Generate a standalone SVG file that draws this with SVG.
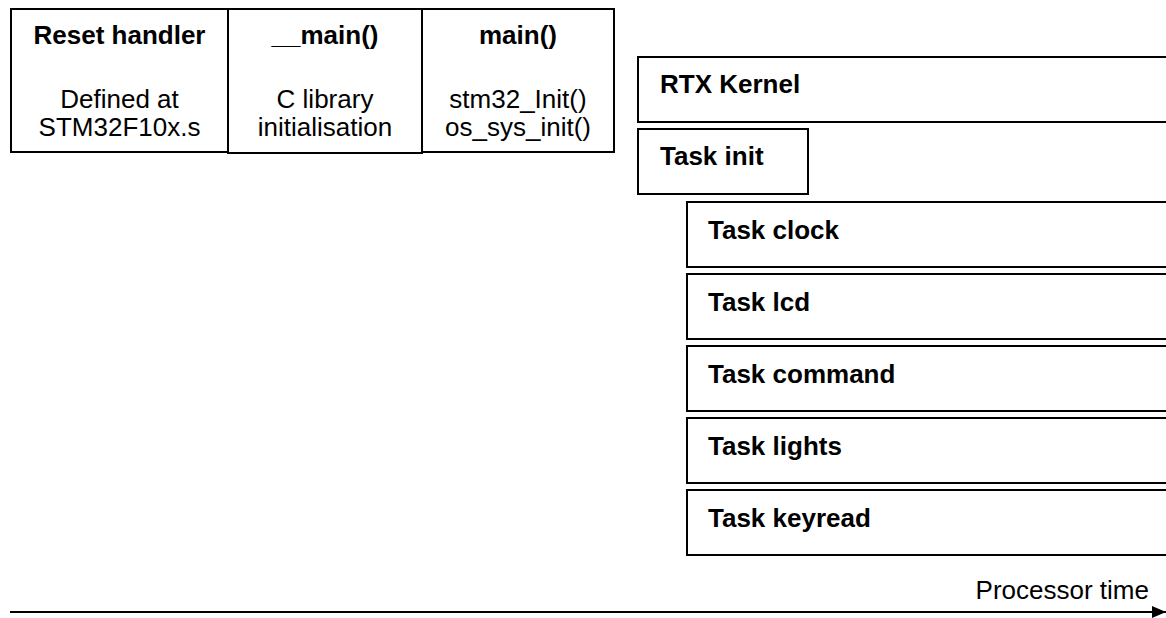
<svg xmlns="http://www.w3.org/2000/svg" width="1166" height="618" viewBox="0 0 1166 618">
<style>
.box{fill:#fff;stroke:#000;stroke-width:2}
.b{font-family:"Liberation Sans",Arial,sans-serif;font-weight:bold;font-size:26px;fill:#000}
.r{font-family:"Liberation Sans",Arial,sans-serif;font-size:26px;fill:#000}
.c{text-anchor:middle}
</style>
<defs>
<marker id="ah" markerWidth="14" markerHeight="12" refX="14" refY="6" orient="auto" markerUnits="userSpaceOnUse">
<path d="M0,0 L14,6 L0,12 Z" fill="#000"/>
</marker>
</defs>
<rect width="1166" height="618" fill="#fff"/>
<g id="reset">
<rect class="box" x="11" y="9" width="217" height="143"/>
<text class="b c" x="119.5" y="44">Reset handler</text>
<text class="r c" x="119.5" y="108">Defined at</text>
<text class="r c" x="119.5" y="136">STM32F10x.s</text>
</g>
<g id="cmain">
<rect class="box" x="228" y="9" width="194" height="144"/>
<text class="b c" x="325" y="44">__main()</text>
<text class="r c" x="325" y="108">C library</text>
<text class="r c" x="325" y="136">initialisation</text>
</g>
<g id="main">
<rect class="box" x="422" y="9" width="192" height="143"/>
<text class="b c" x="518" y="44">main()</text>
<text class="r c" x="518" y="108">stm32_Init()</text>
<text class="r c" x="518" y="136">os_sys_init()</text>
</g>
<g id="rtx">
<rect class="box" x="638" y="57" width="540" height="65"/>
<text class="b" x="660" y="93">RTX Kernel</text>
</g>
<g id="taskinit">
<rect class="box" x="638" y="129" width="170" height="65"/>
<text class="b" x="660" y="165">Task init</text>
</g>
<g id="taskclock">
<rect class="box" x="687" y="202" width="490" height="65"/>
<text class="b" x="708" y="239">Task clock</text>
</g>
<g id="tasklcd">
<rect class="box" x="687" y="274" width="490" height="65"/>
<text class="b" x="708" y="311">Task lcd</text>
</g>
<g id="taskcommand">
<rect class="box" x="687" y="346" width="490" height="65"/>
<text class="b" x="708" y="383">Task command</text>
</g>
<g id="tasklights">
<rect class="box" x="687" y="418" width="490" height="65"/>
<text class="b" x="708" y="455">Task lights</text>
</g>
<g id="taskkeyread">
<rect class="box" x="687" y="490" width="490" height="65"/>
<text class="b" x="708" y="527">Task keyread</text>
</g>
<g id="connectors">
<line x1="10" y1="612" x2="1166" y2="612" stroke="#000" stroke-width="2" marker-end="url(#ah)"/>
<text class="r" x="1149" y="599" text-anchor="end">Processor time</text>
</g>
</svg>
